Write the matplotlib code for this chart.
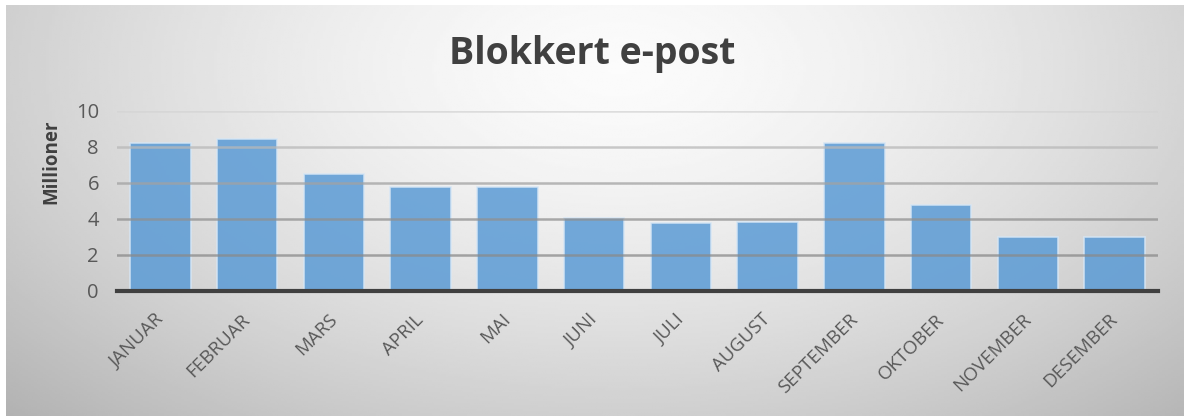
import numpy as np
import matplotlib
matplotlib.use("Agg")
import matplotlib.pyplot as plt
import matplotlib.transforms as mtransforms

months = ["JANUAR", "FEBRUAR", "MARS", "APRIL", "MAI", "JUNI", "JULI",
          "AUGUST", "SEPTEMBER", "OKTOBER", "NOVEMBER", "DESEMBER"]
blocked = [8.2, 8.45, 6.5, 5.78, 5.78, 4.05, 3.78, 3.83, 8.22, 4.78, 3.0, 3.0]
yticks = [0, 2, 4, 6, 8, 10]
grid_colors = ["#8a8a8a", "#909090", "#a2a2a2", "#b8b8b8", "#d4d4d4"]

plt.rcParams['font.family'] = ['Open Sans', 'DejaVu Sans']

fig = plt.figure(figsize=(11.84, 4.16), dpi=100, facecolor="white")

# radial gradient background (white strip left/top like the original)
bg = fig.add_axes([6 / 1184, 0, 1 - 6 / 1184, 1 - 5 / 416], zorder=-10)
gx, gy = np.meshgrid(np.linspace(0, 1, 400), np.linspace(0, 1, 200))
r = np.sqrt(((gx - 0.52) / 0.62) ** 2 + ((gy - 0.15) / 1.0) ** 2)
shade = 0.985 - 0.22 * np.clip(r, 0, 1.3) ** 1.5
bg.imshow(shade, cmap="gray", vmin=0, vmax=1, aspect="auto",
          extent=[0, 1, 0, 1], origin="upper")
bg.axis("off")

ax = fig.add_axes([117 / 1184, 1 - 291 / 416, (1158 - 117) / 1184, 180 / 416])
ax.patch.set_alpha(0)
x = np.arange(len(months))
ax.bar(x, blocked, width=0.7, color="#5b9bd5", alpha=0.85,
       edgecolor="#d6e6f5", linewidth=1.2, zorder=2)
for yv, c in zip(yticks[1:], grid_colors):
    ax.axhline(yv, color=c, linewidth=1.8, alpha=0.75, zorder=3)
ax.set_xlim(-0.5, len(months) - 0.5)
ax.set_ylim(0, 10)
ax.set_yticks(yticks)
for s in ["top", "right", "left"]:
    ax.spines[s].set_visible(False)
ax.spines["bottom"].set_color("#404040")
ax.spines["bottom"].set_linewidth(3)
ax.spines["bottom"].set_zorder(4)
ax.tick_params(axis="both", length=0, colors="#595959")
ax.tick_params(axis="y", labelsize=14.5, pad=13)
ax.set_xticks(x)
ax.set_xticklabels(months, rotation=45, ha="right", rotation_mode="anchor",
                   fontsize=13.5)
ax.tick_params(axis="x", pad=14)
shift = mtransforms.ScaledTranslation(-6 / 100, 0, fig.dpi_scale_trans)
for lbl in ax.get_xticklabels():
    lbl.set_transform(lbl.get_transform() + shift)
ax.set_ylabel("Millioner", fontsize=13.5, fontweight="bold", color="#404040")
ax.yaxis.set_label_coords(-0.053, 0.72)

fig.text(0.5, 1 - 54 / 416, "Blokkert e-post", ha="center", va="center",
         fontsize=27, fontweight="bold", color="#404040")

fig.savefig("out.png", dpi=100, facecolor="white")
